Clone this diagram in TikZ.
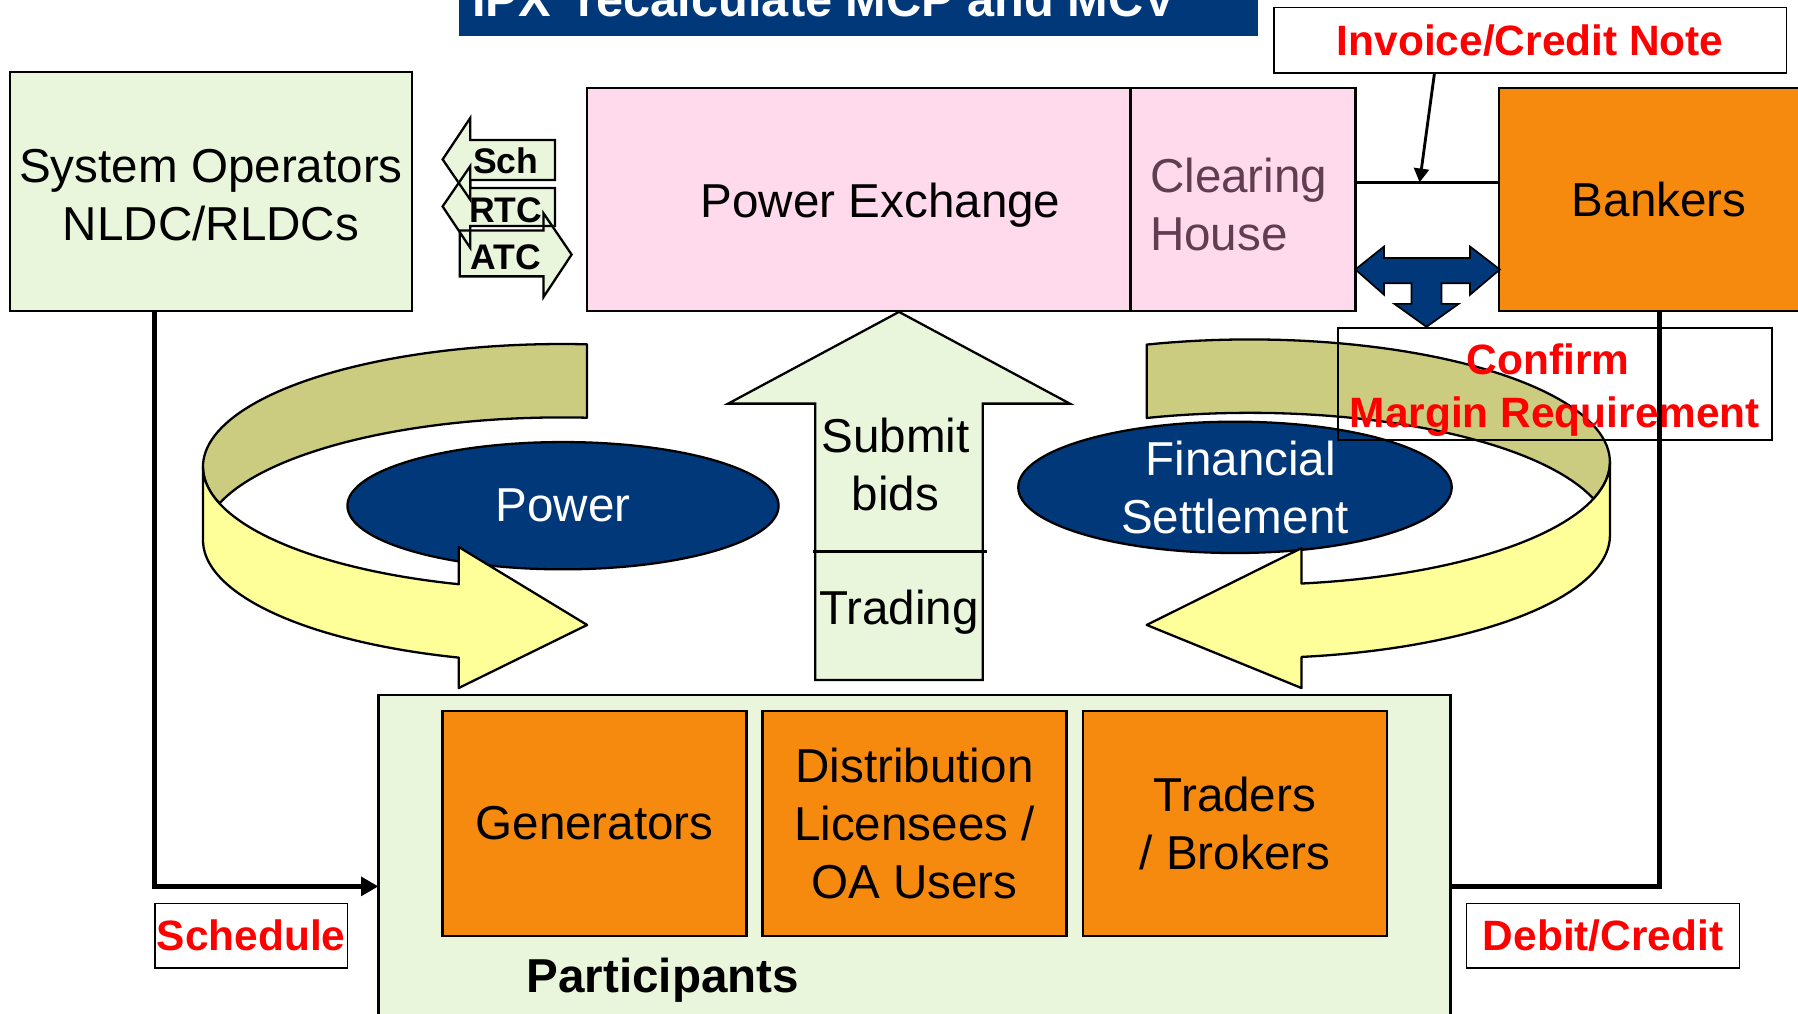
\documentclass[tikz,border=0pt]{standalone}
\usepackage{fontspec}
\setmainfont{Liberation Sans}
\usetikzlibrary{shapes.geometric,arrows.meta}

\definecolor{pxblue}{RGB}{0,56,122}
\definecolor{sogreen}{RGB}{234,246,220}
\definecolor{pxpink}{RGB}{255,217,236}
\definecolor{bankorange}{RGB}{246,138,14}
\definecolor{ringolive}{RGB}{204,204,128}
\definecolor{ringyellow}{RGB}{255,255,153}
\definecolor{chtext}{RGB}{96,62,82}

\newcommand{\bodyfont}{\fontsize{41.5}{50.5}\selectfont}
\newcommand{\notefont}{\fontsize{37}{46}\selectfont\bfseries}
\newcommand{\tagfont}{\fontsize{31}{36}\selectfont\bfseries}

\begin{document}
\begin{tikzpicture}[x=1pt, y=-1pt,
	box/.style={draw, line width=2pt, inner sep=0pt, outer sep=0pt, align=center, font=\bodyfont},
	note/.style={draw, line width=1.5pt, inner sep=0pt, outer sep=0pt, align=center, text=red, font=\notefont},
	ring/.style={draw, line width=2pt, line join=round},
	link/.style={line width=4.5pt},
	wire/.style={line width=2.5pt}]
	\clip (0,0) rectangle (1568,884.2);

	% title and invoice
	\node[fill=pxblue, minimum width=697pt, minimum height=65pt, inner sep=0pt] (title) at (748.5,-1.5) {};
	\node[anchor=base west, inner sep=0pt, text=white, font=\fontsize{42.5}{50}\selectfont\bfseries] (ttl) at (411.5,14) {IPX\ \ recalculate MCP and MCV};
	\node[note, minimum width=447pt, minimum height=57pt] (inv) at (1334.5,35) {\raisebox{-2pt}{Invoice/Credit Note}};

	% top row
	\node[box, fill=sogreen, minimum width=350pt, minimum height=208pt,
		label={[font=\bodyfont, align=center, yshift=-3pt]center:System Operators\\NLDC/RLDCs}] (so) at (184,167) {};
	\node[box, fill=pxpink, minimum width=474pt, minimum height=194pt,
		label={[xshift=19pt, yshift=-5pt, font=\bodyfont]center:Power Exchange}] (px) at (749,174) {};
	\node[box, fill=pxpink, minimum width=196pt, minimum height=194pt,
		label={[font=\bodyfont, text=chtext, text width=162pt, align=left, yshift=-4pt]center:Clearing\\House}] (ch) at (1084,174) {};
	\node[box, fill=bankorange, minimum width=280pt, minimum height=194pt] (bank) at (1447,174) {Bankers};

	\draw[wire] ([yshift=15pt]ch.east) -- ([yshift=15pt]bank.west);
	\coordinate (invin) at (1238,159);
	\draw[wire, -{Triangle[length=12pt, width=13pt]}] ([xshift=-83.5pt]inv.south) -- (invin);

	% clearing house <-> bankers
	\draw[line width=1.5pt, fill=pxblue] (1182,235) -- (1207,215) -- (1207,225) -- (1282,225) -- (1282,215) -- (1308,235) -- (1282,257) -- (1282,247)
		-- (1257,247) -- (1257,265) -- (1272,265) -- (1244,285) -- (1216,265) -- (1231,265) -- (1231,247) -- (1207,247) -- (1207,257) -- cycle;

	% Sch, RTC, ATC
	\fill[sogreen] (386,139) -- (410,103) -- (410,122) -- (484,122) -- (484,157) -- (410,157) -- (410,174) -- cycle;
	\fill[sogreen] (386,180) -- (410,145) -- (410,164) -- (484,164) -- (484,197) -- (410,197) -- (410,216) -- cycle;
	\fill[sogreen] (498.5,222) -- (474,186) -- (474,201) -- (401,201) -- (401,241) -- (474,241) -- (474,259) -- cycle;
	\draw[line width=2pt] (386,139) -- (410,103) -- (410,122) -- (484,122) -- (484,157) -- (410,157) -- (410,174) -- cycle;
	\draw[line width=2pt] (386,180) -- (410,145) -- (410,164) -- (484,164) -- (484,197) -- (410,197) -- (410,216) -- cycle;
	\draw[line width=2pt] (498.5,222) -- (474,186) -- (474,201) -- (401,201) -- (401,241) -- (474,241) -- (474,259) -- cycle;
	\node[font=\tagfont] (sch) at (441,140) {Sch};
	\node[font=\tagfont] (rtc) at (441,183) {RTC};
	\node[font=\tagfont] (atc) at (441,224) {ATC};

	% cycles
	\node[ellipse, draw, line width=2pt, fill=pxblue, text=white, font=\bodyfont, inner sep=0pt, minimum width=376pt, minimum height=111pt] (power) at (491,441) {Power};
	\node[ellipse, draw, line width=2pt, fill=pxblue, text=white, font=\bodyfont, inner sep=0pt, align=center, minimum width=378pt, minimum height=111pt] (fin) at (1077,425) {\hspace*{10pt}Financial\\Settlement};

	\draw[ring, fill=ringolive] plot[domain=-86:-197.4, samples=60] ({490+313*cos(\x)},{407+107*sin(\x)})
		-- plot[domain=197.4:274, samples=40] ({490+313*cos(\x)},{471+107*sin(\x)}) -- cycle;
	\draw[ring, fill=ringyellow] (177,407) -- (177,471) -- plot[domain=180:106.7, samples=40] ({490+313*cos(\x)},{471+107*sin(\x)})
		-- (400,600) -- (512,545) -- (400,477) -- plot[domain=106.7:180, samples=40] ({490+313*cos(\x)},{407+107*sin(\x)}) -- cycle;

	\draw[ring, fill=ringolive] plot[domain=-106.65:17.4, samples=60] ({1090+314*cos(\x)},{403+107*sin(\x)})
		-- plot[domain=-17.4:-106.65, samples=40] ({1090+314*cos(\x)},{467+107*sin(\x)}) -- cycle;
	\draw[ring, fill=ringyellow] (1404,403) -- (1404,467) -- plot[domain=0:81.76, samples=40] ({1090+314*cos(\x)},{467+107*sin(\x)})
		-- (1135,600) -- (1000,545) -- (1135,478) -- plot[domain=81.76:0, samples=40] ({1090+314*cos(\x)},{403+107*sin(\x)}) -- cycle;

	% trading arrow
	\draw[line width=2pt, fill=sogreen] (784,272) -- (933,352) -- (857,352) -- (857,593) -- (711,593) -- (711,352) -- (635,352) -- cycle;
	\draw[line width=2pt] (709,481) -- (861,481);
	\node[font=\bodyfont, align=center] (bids) at (781,405) {Submit\\bids};
	\node[font=\bodyfont] (trading) at (784,534) {Trading};

	\node[note, minimum width=378pt, minimum height=98pt,
		label={[font=\notefont, text=red, align=center, yshift=-5pt]center:\hspace*{-12pt}Confirm\\Margin Requirement}] (conf) at (1356,335) {};

	% participants
	\node[box, fill=sogreen, minimum width=935pt, minimum height=334pt] (part) at (797.5,773) {};
	\node[box, fill=bankorange, minimum width=265pt, minimum height=196pt] (gen) at (518.5,718) {Generators};
	\node[box, fill=bankorange, minimum width=265pt, minimum height=196pt] (dist) at (797.5,718) {Distribution\\Licensees /\\OA Users};
	\node[box, fill=bankorange, minimum width=265pt, minimum height=196pt] (trad) at (1077,718) {Traders\\/ Brokers};
	\node[font=\bodyfont\bfseries] (ptitle) at (578,855) {Participants};

	\node[note, minimum width=168pt, minimum height=56pt] (sched) at (219,816) {\raisebox{-2pt}{Schedule}};
	\node[note, minimum width=238pt, minimum height=56pt] (dc) at (1398,816) {\raisebox{-2pt}{Debit/Credit}};

	\draw[link, -{Triangle[length=15pt, width=16pt]}] (so.south -| sched.west) |- (part.west);
	\draw[link] (bank.south) |- (part.east);

\end{tikzpicture}
\end{document}
